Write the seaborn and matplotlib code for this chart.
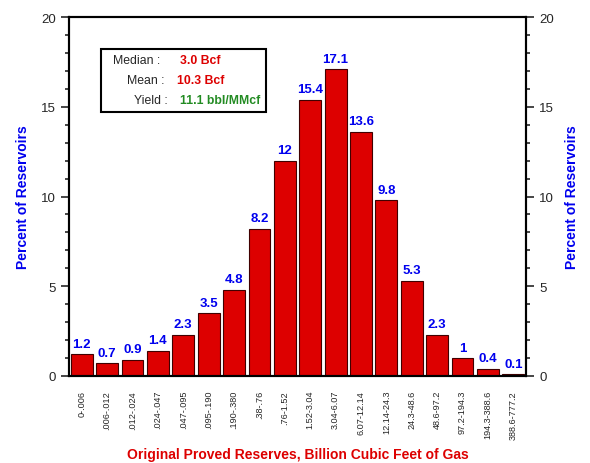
import matplotlib
matplotlib.use("Agg")
import matplotlib.pyplot as plt
import seaborn as sns
import pandas as pd
from matplotlib.ticker import MultipleLocator

# Dados
categorias = ['0-.006', '.006-.012', '.012-.024', '.024-.047', '.047-.095', '.095-.190',
              '.190-.380', '.38-.76', '.76-1.52', '1.52-3.04', '3.04-6.07', '6.07-12.14',
              '12.14-24.3', '24.3-48.6', '48.6-97.2', '97.2-194.3', '194.3-388.6', '388.6-777.2']
percentuais = [1.2, 0.7, 0.9, 1.4, 2.3, 3.5, 4.8, 8.2, 12, 15.4, 17.1, 13.6, 9.8, 5.3, 2.3, 1, 0.4, 0.1]
rotulos = ['1.2', '0.7', '0.9', '1.4', '2.3', '3.5', '4.8', '8.2', '12', '15.4', '17.1', '13.6',
           '9.8', '5.3', '2.3', '1', '0.4', '0.1']

sns.set_style("white")
plt.rcParams['font.family'] = ['Liberation Sans', 'DejaVu Sans']

df = pd.DataFrame({'Faixa': categorias, 'Percentual': percentuais})

fig = plt.figure(figsize=(5.9, 4.64), dpi=100)
ax = fig.add_axes([0.117, 0.1875, 0.7745, 0.7735])

sns.barplot(data=df, x='Faixa', y='Percentual', color='#dd0000', saturation=1,
            width=0.86, edgecolor='#400000', linewidth=0.8, ax=ax)

# Rótulos acima das barras
for i, (v, r) in enumerate(zip(percentuais, rotulos)):
    ax.text(i, v + 0.25, r, ha='center', va='bottom', color='#0000ee',
            fontsize=9.5, fontweight='bold')

ax.set_xlim(-0.5, 17.5)

# Eixo y direito espelhado
ax2 = ax.twinx()
for a in (ax, ax2):
    a.set_ylim(0, 20)
    a.yaxis.set_major_locator(MultipleLocator(5))
    a.yaxis.set_minor_locator(MultipleLocator(1))
    a.tick_params(axis='y', which='major', direction='out', length=6, width=1.2, labelsize=9.5)
    a.tick_params(axis='y', which='minor', direction='out', length=3, width=1.2)
    for s in a.spines.values():
        s.set_linewidth(1.5)
        s.set_color('black')
    a.set_ylabel('Percent of Reservoirs', color='#0000ee', fontsize=10,
                 fontweight='bold', labelpad=8)
ax.tick_params(axis='y', which='both', left=True, right=False)
ax2.tick_params(axis='y', which='both', left=False, right=True)

ax.tick_params(axis='x', length=0, labelsize=6.6, pad=10)
plt.setp(ax.get_xticklabels(), rotation=90)

ax.set_xlabel('Original Proved Reserves, Billion Cubic Feet of Gas', color='#dd0000',
              fontsize=10, fontweight='bold', labelpad=6)

# Caixa de estatísticas
caixa = plt.Rectangle((0.069, 0.735), 0.362, 0.175, transform=ax.transAxes,
                      fill=True, facecolor='white', edgecolor='black', linewidth=1.5, zorder=5)
ax.add_patch(caixa)
nomes = ['Median :', 'Mean :', 'Yield :']
valores = ['3.0 Bcf', '10.3 Bcf', '11.1 bbl/MMcf']
cores = ['#dd0000', '#dd0000', '#228b22']
xs_nome = [0.2, 0.208, 0.216]
xs_valor = [0.243, 0.236, 0.243]
for k, y in enumerate([0.88, 0.825, 0.77]):
    ax.text(xs_nome[k], y, nomes[k], transform=ax.transAxes, ha='right', va='center',
            fontsize=8.8, zorder=6)
    ax.text(xs_valor[k], y, valores[k], transform=ax.transAxes, ha='left', va='center',
            fontsize=8.8, color=cores[k], fontweight='bold', zorder=6)

fig.savefig('out.png', dpi=100)
